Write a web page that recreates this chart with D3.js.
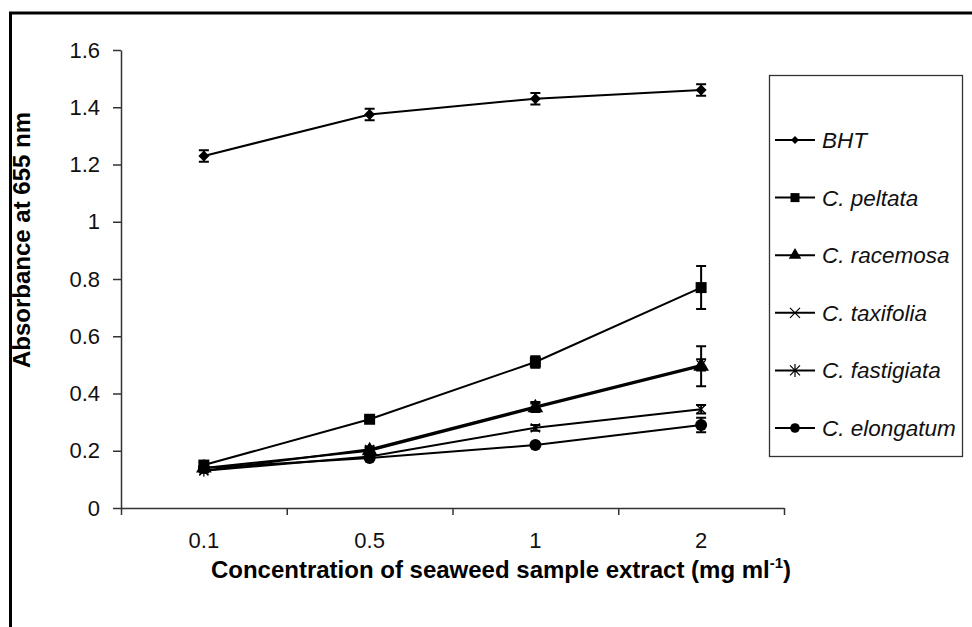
<!DOCTYPE html>
<html>
<head>
<meta charset="utf-8">
<script src="https://cdn.jsdelivr.net/npm/d3@7"></script>
<style>
  body { margin: 0; background: #fff; }
  svg { display: block; font-family: "Liberation Sans", Arial, sans-serif; }
</style>
</head>
<body>
<div id="chart"></div>
<script>
// concentrations (x categories)
var concentrations = ["0.1", "0.5", "1", "2"];
var yTicks = [0, 0.2, 0.4, 0.6, 0.8, 1, 1.2, 1.4, 1.6];

// series names, means and error values
var seriesNames = ["BHT", "C. peltata", "C. racemosa", "C. taxifolia", "C. fastigiata", "C. elongatum"];
var bhtValues        = [1.23, 1.375, 1.43, 1.46];
var peltataValues    = [0.15, 0.31, 0.51, 0.77];
var racemosaValues   = [0.14, 0.20, 0.35, 0.495];
var taxifoliaValues  = [0.13, 0.18, 0.28, 0.345];
var fastigiataValues = [0.13, 0.205, 0.355, 0.50];
var elongatumValues  = [0.14, 0.175, 0.22, 0.29];

var bhtErr        = [0.02, 0.02, 0.02, 0.02];
var peltataErr    = [0.01, 0.01, 0.02, 0.075];
var racemosaErr   = [0.005, 0.01, 0.015, 0.07];
var taxifoliaErr  = [0.005, 0.005, 0.01, 0.015];
var fastigiataErr = [0.005, 0.01, 0.015, 0.02];
var elongatumErr  = [0.005, 0.005, 0.005, 0.025];

var markers = ["diamond", "square", "triangle", "x", "star", "circle"];

var allValues = [bhtValues, peltataValues, racemosaValues, taxifoliaValues, fastigiataValues, elongatumValues];
var allErrs = [bhtErr, peltataErr, racemosaErr, taxifoliaErr, fastigiataErr, elongatumErr];

var series = seriesNames.map(function(name, i) {
  return {
    name: name,
    marker: markers[i],
    points: concentrations.map(function(c, j) {
      return {c: c, v: allValues[i][j], e: allErrs[i][j]};
    })
  };
});

var width = 972, height = 627;
var plot = {left: 121, right: 784, top: 50, bottom: 508};

var svg = d3.select("#chart").append("svg")
    .attr("width", width)
    .attr("height", height);

// outer frame (cut off at right and bottom in the original)
svg.append("rect")
    .attr("x", 10.5).attr("y", 13)
    .attr("width", 1000).attr("height", 700)
    .attr("fill", "none")
    .attr("stroke", "#000")
    .attr("stroke-width", 3);

var x = d3.scaleBand().domain(concentrations).range([plot.left, plot.right]);
var xIdx = d3.scaleLinear().domain([0, concentrations.length]).range([plot.left, plot.right]);
var y = d3.scaleLinear().domain([0, 1.6]).range([plot.bottom, plot.top]);

// y axis
var yAxis = d3.axisLeft(y).tickValues(yTicks).tickSize(8).tickSizeOuter(0)
    .tickFormat(function(d) { return String(+d.toFixed(1)); });
var gy = svg.append("g")
    .attr("transform", "translate(" + plot.left + ",0)")
    .call(yAxis);
gy.selectAll("text").attr("font-size", 22).attr("x", -21).attr("fill", "#111");

// x axis: ticks on category boundaries, labels at centres
var xAxis = d3.axisBottom(xIdx).tickValues(d3.range(concentrations.length + 1))
    .tickSize(7).tickSizeOuter(0).tickFormat("");
var gx = svg.append("g")
    .attr("transform", "translate(0," + plot.bottom + ")")
    .call(xAxis);

svg.append("g").selectAll("text")
    .data(concentrations)
  .enter().append("text")
    .attr("x", function(d) { return x(d) + x.bandwidth() / 2; })
    .attr("y", plot.bottom + 40)
    .attr("text-anchor", "middle")
    .attr("font-size", 22)
    .attr("fill", "#111")
    .text(function(d) { return d; });

svg.selectAll(".domain, .tick line").attr("stroke", "#333").attr("stroke-width", 1.5);

// axis titles
svg.append("text")
    .attr("transform", "translate(30,240) rotate(-90)")
    .attr("text-anchor", "middle")
    .attr("font-size", 24)
    .attr("font-weight", "bold")
    .text("Absorbance at 655 nm");

var xt = svg.append("text")
    .attr("x", 501)
    .attr("y", 578)
    .attr("text-anchor", "middle")
    .attr("font-size", 24)
    .attr("font-weight", "bold");
xt.append("tspan").text("Concentration of seaweed sample extract (mg ml");
xt.append("tspan").attr("font-size", 15).attr("dy", -10).text("-1");
xt.append("tspan").attr("dy", 10).text(")");

function markerPath(type, s) {
  if (type === "diamond") return d3.symbol(d3.symbolSquare, 2 * s * s)();
  if (type === "square") return d3.symbol(d3.symbolSquare, 4 * s * s)();
  if (type === "triangle") return d3.symbol(d3.symbolTriangle, 3.2 * s * s)();
  if (type === "circle") return d3.symbol(d3.symbolCircle, Math.PI * s * s)();
  if (type === "x") return "M" + (-s) + "," + (-s) + "L" + s + "," + s + "M" + (-s) + "," + s + "L" + s + "," + (-s);
  // star: x with a vertical bar
  return "M" + (-s) + "," + (-s) + "L" + s + "," + s + "M" + (-s) + "," + s + "L" + s + "," + (-s) +
         "M0," + (-s * 1.3) + "L0," + (s * 1.3);
}

function drawMarker(g, type, cx, cy, s) {
  var p = g.append("path")
      .attr("d", markerPath(type, s))
      .attr("transform", "translate(" + cx + "," + cy + ")" + (type === "diamond" ? " rotate(45)" : ""));
  if (type === "x" || type === "star") {
    p.attr("fill", "none").attr("stroke", "#000").attr("stroke-width", 1.2);
  } else {
    p.attr("fill", "#000");
  }
}

var line = d3.line()
    .x(function(d) { return x(d.c) + x.bandwidth() / 2; })
    .y(function(d) { return y(d.v); });

var marks = svg.append("g");

series.forEach(function(s) {
  var g = marks.append("g");
  g.append("path")
      .datum(s.points)
      .attr("d", line)
      .attr("fill", "none")
      .attr("stroke", "#000")
      .attr("stroke-width", 2);

  // error bars
  s.points.forEach(function(p) {
    var cx = x(p.c) + x.bandwidth() / 2;
    var y1 = y(p.v - p.e), y2 = y(p.v + p.e);
    g.append("path")
        .attr("d", "M" + cx + "," + y1 + "L" + cx + "," + y2 +
                   "M" + (cx - 5) + "," + y1 + "L" + (cx + 5) + "," + y1 +
                   "M" + (cx - 5) + "," + y2 + "L" + (cx + 5) + "," + y2)
        .attr("fill", "none")
        .attr("stroke", "#000")
        .attr("stroke-width", 2);
  });

  var size = {diamond: 5.5, square: 5.5, triangle: 5.8, x: 4.5, star: 4.5, circle: 6}[s.marker];
  s.points.forEach(function(p) {
    drawMarker(g, s.marker, x(p.c) + x.bandwidth() / 2, y(p.v), size);
  });
});

// legend
var leg = {x: 769, y: 75, w: 193, h: 381};
svg.append("rect")
    .attr("x", leg.x + 0.5).attr("y", leg.y + 0.5)
    .attr("width", leg.w).attr("height", leg.h)
    .attr("fill", "#fff")
    .attr("stroke", "#333")
    .attr("stroke-width", 1.3);

var legY = d3.scalePoint().domain(seriesNames).range([140, 428]);
var lsize = {diamond: 4, square: 4.5, triangle: 4.6, x: 5, star: 5, circle: 4.8};

seriesNames.forEach(function(name, i) {
  var ly = legY(name);
  var g = svg.append("g");
  g.append("line")
      .attr("x1", 775).attr("x2", 815)
      .attr("y1", ly).attr("y2", ly)
      .attr("stroke", "#000").attr("stroke-width", 2);
  drawMarker(g, markers[i], 795, ly, lsize[markers[i]]);
  g.append("text")
      .attr("x", 822).attr("y", ly + 8)
      .attr("font-size", 22.5)
      .attr("font-style", "italic")
      .attr("fill", "#111")
      .text(name);
});
</script>
</body>
</html>
